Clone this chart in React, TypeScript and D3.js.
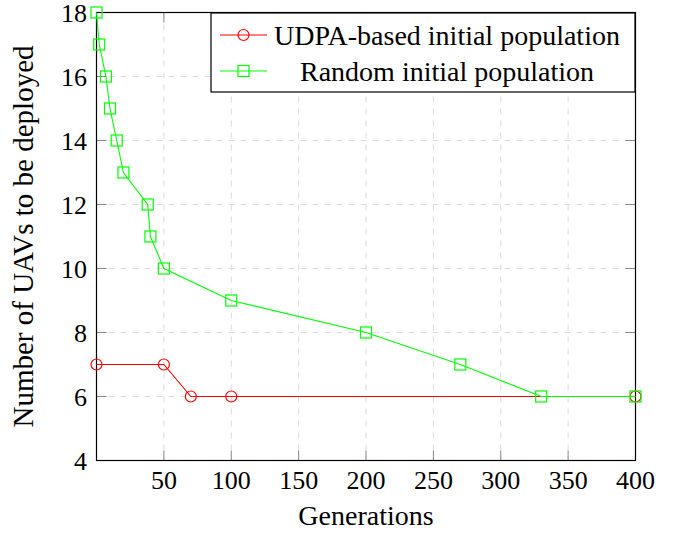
import React from "react";
import * as d3 from "d3";

// Generations at which each run was sampled, and UAV counts
const udpaGen = [0, 50, 70, 100, 400];
const udpaUAVs = [7, 7, 6, 6, 6];
const randomGen = [0, 2, 7, 10, 15, 20, 38, 40, 50, 100, 200, 270, 330, 400];
const randomUAVs = [18, 17, 16, 15, 14, 13, 12, 11, 10, 9, 8, 7, 6, 6];

const xTicks = [50, 100, 150, 200, 250, 300, 350, 400];
const yTicks = [4, 6, 8, 10, 12, 14, 16, 18];

const seriesNames = ["UDPA-based initial population", "Random initial population"];

const W = 683;
const H = 534;
const left = 96.5;
const right = 635.5;
const top = 12.5;
const bottom = 460.5;
const serif = { fontFamily: '"Liberation Serif", "DejaVu Serif", serif' };
const RED = "#ff0000";
const GREEN = "#00ff00";

export default function App() {
  const x = d3.scaleLinear().domain([0, 400]).range([left, right]);
  const y = d3.scaleLinear().domain([4, 18]).range([bottom, top]);
  const line = d3
    .line<[number, number]>()
    .x((d) => x(d[0]))
    .y((d) => y(d[1]));

  const udpa: [number, number][] = udpaGen.map((g, i) => [g, udpaUAVs[i]]);
  const rnd: [number, number][] = randomGen.map((g, i) => [g, randomUAVs[i]]);

  const square = (cx: number, cy: number, key: string) => (
    <rect key={key} x={cx - 5.5} y={cy - 5.5} width={11} height={11} fill="none" stroke={GREEN} strokeWidth={1.2} />
  );
  const circle = (cx: number, cy: number, key: string) => (
    <circle key={key} cx={cx} cy={cy} r={5.5} fill="none" stroke={RED} strokeWidth={1.2} />
  );

  const legX = 211;
  const legY = 13;
  const legW = 424;
  const legH = 79;
  const rows = [35, 71];

  return (
    <svg width={W} height={H} style={{ position: "absolute", left: 0, top: 0, background: "#fff" }}>
      {/* grid */}
      {xTicks.map((t) => (
        <line key={"gx" + t} x1={x(t)} x2={x(t)} y1={top} y2={bottom} stroke="#dcdcdc" strokeDasharray="6 6" strokeWidth={1} />
      ))}
      {yTicks.map((t) => (
        <line key={"gy" + t} x1={left} x2={right} y1={y(t)} y2={y(t)} stroke="#dcdcdc" strokeDasharray="6 6" strokeWidth={1} />
      ))}
      {/* inner tick marks */}
      {xTicks.map((t) => (
        <g key={"tx" + t}>
          <line x1={x(t)} x2={x(t)} y1={bottom} y2={bottom - 10} stroke="#888" strokeWidth={1} />
          <line x1={x(t)} x2={x(t)} y1={top} y2={top + 10} stroke="#888" strokeWidth={1} />
        </g>
      ))}
      {yTicks.map((t) => (
        <g key={"ty" + t}>
          <line x1={left} x2={left + 10} y1={y(t)} y2={y(t)} stroke="#888" strokeWidth={1} />
          <line x1={right} x2={right - 10} y1={y(t)} y2={y(t)} stroke="#888" strokeWidth={1} />
        </g>
      ))}
      {/* frame */}
      <rect x={left} y={top} width={right - left} height={bottom - top} fill="none" stroke="#000" strokeWidth={1.2} />

      {/* series */}
      <path d={line(udpa) ?? ""} fill="none" stroke={RED} strokeWidth={1.1} />
      {udpa.map((d, i) => circle(x(d[0]), y(d[1]), "c" + i))}
      <path d={line(rnd) ?? ""} fill="none" stroke={GREEN} strokeWidth={1.1} />
      {rnd.map((d, i) => square(x(d[0]), y(d[1]), "s" + i))}

      {/* tick labels */}
      {xTicks.map((t) => (
        <text key={"lx" + t} x={x(t)} y={489} textAnchor="middle" fontSize={26} fill="#000" style={serif}>
          {t}
        </text>
      ))}
      {yTicks.map((t) => (
        <text key={"ly" + t} x={87} y={y(t)} dy="0.35em" textAnchor="end" fontSize={26} fill="#000" style={serif}>
          {t}
        </text>
      ))}

      {/* axis titles */}
      <text x={(left + right) / 2} y={525} textAnchor="middle" fontSize={28} fill="#000" style={serif}>
        Generations
      </text>
      <text
        transform={`translate(33, ${(top + bottom) / 2}) rotate(-90)`}
        textAnchor="middle"
        fontSize={29}
        fill="#000"
        style={serif}
      >
        Number of UAVs to be deployed
      </text>

      {/* legend */}
      <rect x={legX} y={legY} width={legW} height={legH} fill="#fff" stroke="#000" strokeWidth={1.2} />
      <line x1={220} x2={267} y1={rows[0]} y2={rows[0]} stroke={RED} strokeWidth={1.1} />
      {circle(243.5, rows[0], "lc")}
      <line x1={220} x2={267} y1={rows[1]} y2={rows[1]} stroke={GREEN} strokeWidth={1.1} />
      {square(243.5, rows[1], "ls")}
      {seriesNames.map((n, i) => (
        <text key={n} x={447} y={rows[i]} dy="0.35em" textAnchor="middle" fontSize={28} fill="#000" style={serif}>
          {n}
        </text>
      ))}
    </svg>
  );
}
